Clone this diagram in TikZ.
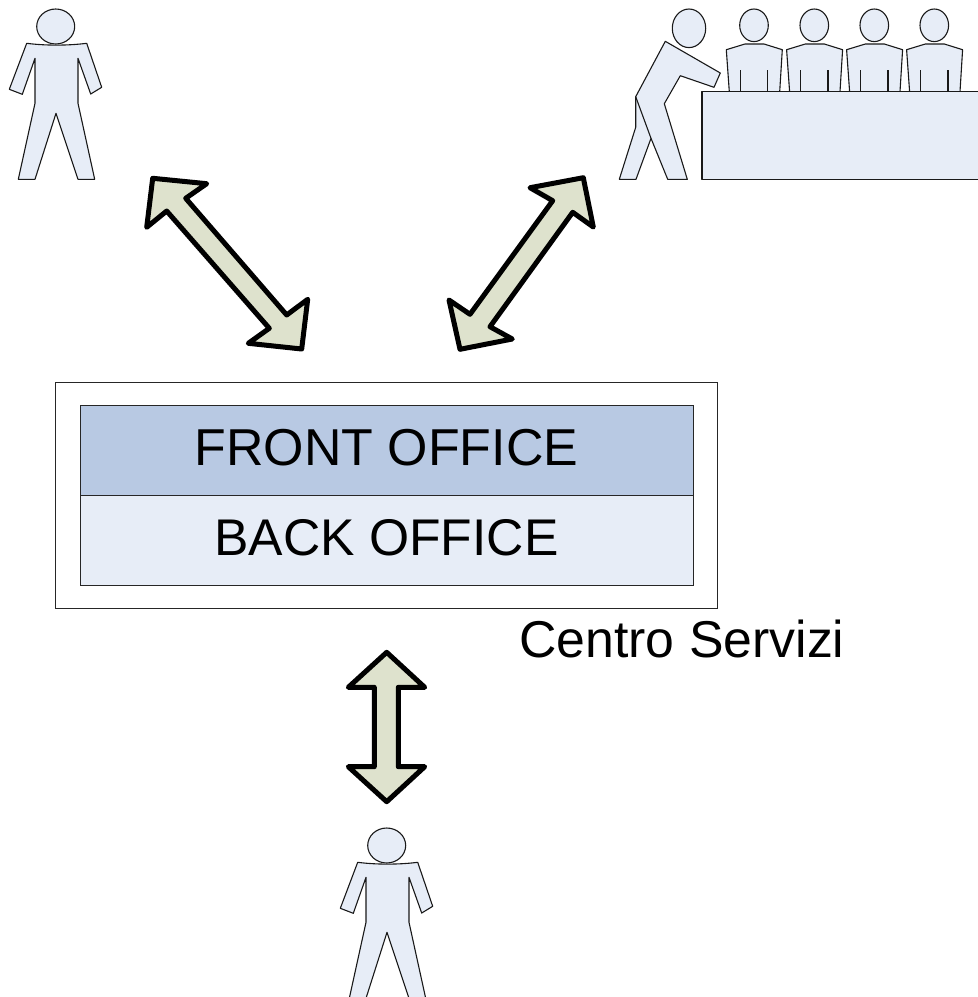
\documentclass[tikz,border=0pt]{standalone}
\usepackage{fontspec}
\setmainfont{Liberation Sans}
\usepackage{tikz}
\definecolor{figfill}{HTML}{E7EDF7}
\definecolor{frontfill}{HTML}{B8C9E3}
\definecolor{arrowfill}{HTML}{DEE2CD}
\tikzset{
  figure/.style={draw=black!90,fill=figfill,line width=1.1pt,line join=round},
  bigarrow/.style={draw=black,fill=arrowfill,line width=5pt,line join=round},
  office/.style={draw=black!85,line width=1pt,minimum width=613pt,minimum height=90pt,inner sep=0pt},
  person/.pic={
    \path[figure] (26.7,43.3) .. controls (45,45.7) and (68,45.7) .. (86.7,43.3) -- (101.7,87.3) -- (90.7,94) -- (78,58.3)
      -- (78,103.3) -- (94.7,179.3) -- (78,179.3) -- (56,113.3) -- (35,179.3) -- (18.3,179.3) -- (35,103.3)
      -- (35,58.3) -- (22.3,94.3) -- (9.3,89.3) -- cycle;
    \path[figure] (55.7,26.5) ellipse [x radius=19,y radius=17.5];
  },
  seated/.pic={
    \path[figure] (-27.7,24.4) -- (-9,18.7) -- (10,18.7) -- (28.3,24.4) -- (25.7,66.4) -- (-24.7,66.4) -- cycle;
    \draw[black!90,line width=1.1pt] (-13.7,45) -- (-13.7,66.4) (13.7,45) -- (13.7,66.4);
    \path[figure] (0,0) ellipse [x radius=14.3,y radius=16.3];
  }
}
\begin{document}
\begin{tikzpicture}[x=1pt,y=-1pt,node distance=90pt]
  \useasboundingbox (0,0) rectangle (978,997);
  \clip (0,0) rectangle (978,997);

  % people
  \pic (user1) at (0,0) {person};
  \pic (user2) at (331,819) {person};
  \foreach \x/\name in {754/a,814.3/b,874.3/c,934.3/d}
    \pic (desk\name) at (\x,25.3) {seated};
  \path[figure] (702,91.7) rectangle (990,179.3);

  % person at the counter
  \path[figure] (665.3,41.3) -- (720.3,73) -- (714,87.3) -- (680.3,75.7) -- (664.3,103.7) -- (687.3,179.3)
    -- (667.7,179.3) -- (651,138.3) -- (636,179.3) -- (619.3,179.3) -- (635.7,127.3) -- (635.7,96.7) -- cycle;
  \draw[black!90,line width=1.1pt] (635.7,96.7) -- (651,138.3);
  \path[figure] (689,28.3) ellipse [x radius=16.7,y radius=19.3];

  % centre
  \node[draw=black!85,line width=1pt,minimum width=662pt,minimum height=226pt,inner sep=0pt] (centro) at (386,495) {};
  \node[office,fill=frontfill] (front) at (386.5,450) {\raisebox{5pt}{\fontsize{51.9pt}{60pt}\selectfont FRONT OFFICE}};
  \node[office,fill=figfill] (back) [below of=front] {\raisebox{5pt}{\fontsize{51.6pt}{60pt}\selectfont BACK OFFICE}};
  \node[anchor=base west,inner sep=0pt] (label) at (519,657) {\fontsize{51.8pt}{60pt}\selectfont Centro Servizi};

  % double arrows
  \path[bigarrow] (152.7,178.3) -- (206.7,183.7) -- (185.7,198.3) -- (286.7,315) -- (307.7,299.3) -- (301.7,349)
    -- (248.3,343.3) -- (269.3,328.3) -- (166.7,211) -- (146.7,227.3) -- cycle;
  \path[bigarrow] (583.3,177.7) -- (593.3,227) -- (572.7,212.3) -- (490,326.7) -- (512.3,339) -- (460,349.3)
    -- (449,300) -- (470,314.3) -- (552.7,200.7) -- (530,187.7) -- cycle;
  \path[bigarrow] (386.7,652.3) -- (424.7,687.3) -- (398.3,687.3) -- (398.3,766.7) -- (424.7,766.7) -- (386.7,801.7)
    -- (348.3,766.7) -- (374.3,766.7) -- (374.3,687.3) -- (348.3,687.3) -- cycle;
\end{tikzpicture}
\end{document}
